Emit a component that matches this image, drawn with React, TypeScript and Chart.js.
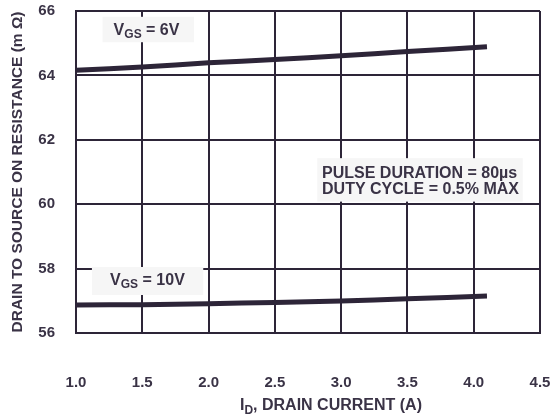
import React, { useEffect, useRef } from "react";
import { Chart, registerables } from "chart.js";

Chart.register(...registerables);

const currentA = [1.0, 1.5, 2.0, 2.5, 3.0, 3.5, 4.1];
const rdsVgs6 = [64.16, 64.26, 64.39, 64.49, 64.61, 64.74, 64.89];
const rdsVgs10 = [56.87, 56.88, 56.91, 56.95, 56.99, 57.06, 57.15];
const xTicks = [1.0, 1.5, 2.0, 2.5, 3.0, 3.5, 4.0, 4.5];
const yTicks = [56, 58, 60, 62, 64, 66];

const FONT = "'Liberation Sans', Arial, Helvetica, sans-serif";
const INK = "#2d2538";
const TEXT = "#3a3346";

type Part = { t: string; sub?: boolean };

function drawRich(ctx: CanvasRenderingContext2D, parts: Part[], x: number, y: number, align: "left" | "center", size: number) {
  const subSize = Math.round(size * 0.72);
  const widths = parts.map((p) => {
    ctx.font = `bold ${p.sub ? subSize : size}px ${FONT}`;
    return ctx.measureText(p.t).width;
  });
  const total = widths.reduce((a, b) => a + b, 0);
  let cx = align === "center" ? x - total / 2 : x;
  ctx.textBaseline = "middle";
  ctx.textAlign = "left";
  parts.forEach((p, i) => {
    ctx.font = `bold ${p.sub ? subSize : size}px ${FONT}`;
    ctx.fillText(p.t, cx, p.sub ? y + size * 0.28 : y);
    cx += widths[i];
  });
}

const annotations = {
  id: "annotations",
  beforeDatasetsDraw(chart: any) {
    const ctx = chart.ctx as CanvasRenderingContext2D;
    const xs = chart.scales.x;
    const ys = chart.scales.y;
    ctx.save();
    ctx.fillStyle = "#f6f6f6";
    const box = (x0: number, x1: number, y0: number, y1: number) => {
      const px0 = xs.getPixelForValue(x0);
      const px1 = xs.getPixelForValue(x1);
      const py0 = ys.getPixelForValue(y0);
      const py1 = ys.getPixelForValue(y1);
      ctx.fillRect(px0, py1, px1 - px0, py0 - py1);
    };
    box(1.2, 1.89, 65.03, 65.82);
    box(1.12, 1.96, 57.18, 58.05);
    box(2.82, 4.37, 60.08, 61.43);
    ctx.fillStyle = TEXT;
    drawRich(ctx, [{ t: "V" }, { t: "GS", sub: true }, { t: " = 6V" }], xs.getPixelForValue(1.532), ys.getPixelForValue(65.4), "center", 16);
    drawRich(ctx, [{ t: "V" }, { t: "GS", sub: true }, { t: " = 10V" }], xs.getPixelForValue(1.539), ys.getPixelForValue(57.64), "center", 16);
    drawRich(ctx, [{ t: "PULSE DURATION = 80\u00b5s" }], xs.getPixelForValue(2.856), ys.getPixelForValue(60.96), "left", 16);
    drawRich(ctx, [{ t: "DUTY CYCLE = 0.5% MAX" }], xs.getPixelForValue(2.856), ys.getPixelForValue(60.44), "left", 16);
    ctx.restore();
  },
  afterDraw(chart: any) {
    const ctx = chart.ctx as CanvasRenderingContext2D;
    ctx.save();
    ctx.fillStyle = TEXT;
    drawRich(ctx, [{ t: "I" }, { t: "D", sub: true }, { t: ", DRAIN CURRENT (A)" }], 331, 406, "center", 16);
    ctx.restore();
  },
};

export default function App() {
  const ref = useRef<HTMLCanvasElement | null>(null);
  useEffect(() => {
    document.body.style.margin = "0";
    const canvas = ref.current!;
    const chart = new Chart(canvas, {
      type: "line",
      data: {
        datasets: [
          {
            label: "VGS = 6V",
            data: currentA.map((x, i) => ({ x, y: rdsVgs6[i] })),
            borderColor: INK,
            borderWidth: 5,
            pointRadius: 0,
            tension: 0.3,
            fill: false,
          },
          {
            label: "VGS = 10V",
            data: currentA.map((x, i) => ({ x, y: rdsVgs10[i] })),
            borderColor: INK,
            borderWidth: 5,
            pointRadius: 0,
            tension: 0.3,
            fill: false,
          },
        ],
      },
      options: {
        responsive: false,
        animation: false,
        layout: { padding: { top: 11, right: 10, left: 0, bottom: 0 } },
        plugins: { legend: { display: false }, tooltip: { enabled: false }, title: { display: false } },
        scales: {
          x: {
            type: "linear",
            min: 1.0,
            max: 4.5,
            afterBuildTicks: (s: any) => {
              s.ticks = xTicks.map((v) => ({ value: v }));
            },
            afterFit: (s: any) => {
              s.height = 87;
              s.paddingLeft = 0;
              s.paddingRight = 0;
            },
            grid: { color: INK, lineWidth: 2, drawTicks: false },
            border: { color: INK, width: 2 },
            ticks: {
              padding: 41,
              color: TEXT,
              font: { family: FONT, size: 15, weight: "bold" },
              callback: (v: any) => Number(v).toFixed(1),
              maxRotation: 0,
            },
          },
          y: {
            type: "linear",
            min: 56,
            max: 66,
            afterBuildTicks: (s: any) => {
              s.ticks = yTicks.map((v) => ({ value: v }));
            },
            afterFit: (s: any) => {
              s.width = 76;
              s.paddingTop = 0;
              s.paddingBottom = 0;
            },
            grid: { color: INK, lineWidth: 2, drawTicks: false },
            border: { color: INK, width: 2 },
            ticks: {
              padding: 21,
              color: TEXT,
              font: { family: FONT, size: 15, weight: "bold" },
            },
            title: {
              display: true,
              text: "DRAIN TO SOURCE ON RESISTANCE (m \u03a9)",
              color: TEXT,
              font: { family: FONT, size: 15.5, weight: "bold" },
              padding: { top: 8, bottom: 0 },
            },
          },
        },
      },
      plugins: [annotations],
    });
    return () => chart.destroy();
  }, []);
  return <canvas ref={ref} width={550} height={420} style={{ display: "block" }} />;
}
